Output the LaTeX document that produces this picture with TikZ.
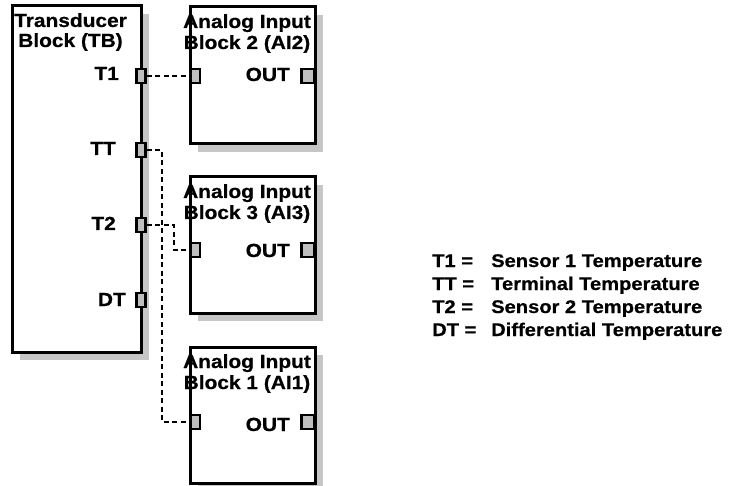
\documentclass[tikz,border=0pt]{standalone}
\usepackage{fontspec}
\setmainfont[FakeStretch=1.1, BoldFeatures={FakeBold=0.6}]{Liberation Sans}
\usetikzlibrary{shadows}
\begin{document}
\begin{tikzpicture}[x=1pt,y=-1pt,
  txt/.style={font=\fontsize{19}{22}\selectfont\bfseries, inner sep=0pt},
  legtxt/.style={font=\fontsize{18.3}{22}\selectfont\bfseries, inner sep=0pt},
  blockbox/.style={draw, line width=3pt, fill=white, inner sep=0pt,
    general shadow={fill=gray!45, shadow xshift=8pt, shadow yshift=-8pt}},
  portbox/.style={draw, line width=2.6pt, fill=gray!50, inner sep=0pt,
    minimum width=9pt, minimum height=14pt},
  outport/.style={portbox, minimum width=12.5pt},
  conn/.style={line width=1.1pt, dash pattern=on 5pt off 3.5pt}]
\useasboundingbox (0,0) rectangle (741,486);

% blocks
\node[blockbox, minimum width=129pt, minimum height=346pt] (tb) at (76.5,179) {};
\node[blockbox, minimum width=125pt, minimum height=137pt] (ai2) at (252.5,75.5) {};
\node[blockbox, minimum width=125pt, minimum height=136pt] (ai3) at (252.5,245) {};
\node[blockbox, minimum width=125pt, minimum height=136pt] (ai1) at (252.5,415) {};

% titles
\node[txt, anchor=base] (tbt1) at (70.5,27) {Transducer};
\node[txt, anchor=base] (tbt2) at (70.5,47) {Block (TB)};
\node[txt, anchor=base] (ai2t1) at (247,28) {Analog Input};
\node[txt, anchor=base] (ai2t2) at (247,49) {Block 2 (AI2)};
\node[txt, anchor=base] (ai3t1) at (247,198) {Analog Input};
\node[txt, anchor=base] (ai3t2) at (247,219) {Block 3 (AI3)};
\node[txt, anchor=base] (ai1t1) at (247,368) {Analog Input};
\node[txt, anchor=base] (ai1t2) at (247,389) {Block 1 (AI1)};

% ports
\node[portbox] (pT1) at (141,76) {};
\node[portbox] (pTT) at (141,150) {};
\node[portbox] (pT2) at (141,225) {};
\node[portbox] (pDT) at (141,300) {};
\node[portbox] (ai2in) at (195.5,76) {};
\node[portbox] (ai3in) at (195.5,250) {};
\node[portbox] (ai1in) at (195.5,422) {};
\node[outport] (ai2out) at (308,76) {};
\node[outport] (ai3out) at (308,250) {};
\node[outport] (ai1out) at (308,422) {};

% port labels
\node[txt, anchor=base east] (lT1) at (119,80) {T1};
\node[txt, anchor=base east] (lTT) at (116,155) {TT};
\node[txt, anchor=base east] (lT2) at (116,230) {T2};
\node[txt, anchor=base east] (lDT) at (126,306) {DT};
\node[txt, anchor=base east] (o2) at (290,81) {OUT};
\node[txt, anchor=base east] (o3) at (290,257) {OUT};
\node[txt, anchor=base east] (o1) at (290,431) {OUT};

% connectors
\coordinate (ttx) at (162,150);
\coordinate (t2x) at (174,225);
\draw[conn] (pT1.east) -- (ai2in.west);
\draw[conn] (pTT.east) -- (ttx) |- (ai1in.west);
\draw[conn] (pT2.east) -- (t2x) |- (ai3in.west);

% legend
\node[legtxt, anchor=base west] (k1) at (432,267) {T1 =};
\node[legtxt, anchor=base west] (k2) at (432,290) {TT =};
\node[legtxt, anchor=base west] (k3) at (432,313) {T2 =};
\node[legtxt, anchor=base west] (k4) at (432,336) {DT =};
\node[legtxt, anchor=base west] (d1) at (491,267) {Sensor 1 Temperature};
\node[legtxt, anchor=base west] (d2) at (491,290) {Terminal Temperature};
\node[legtxt, anchor=base west] (d3) at (491,313) {Sensor 2 Temperature};
\node[legtxt, anchor=base west] (d4) at (491,336) {Differential Temperature};
\end{tikzpicture}
\end{document}
